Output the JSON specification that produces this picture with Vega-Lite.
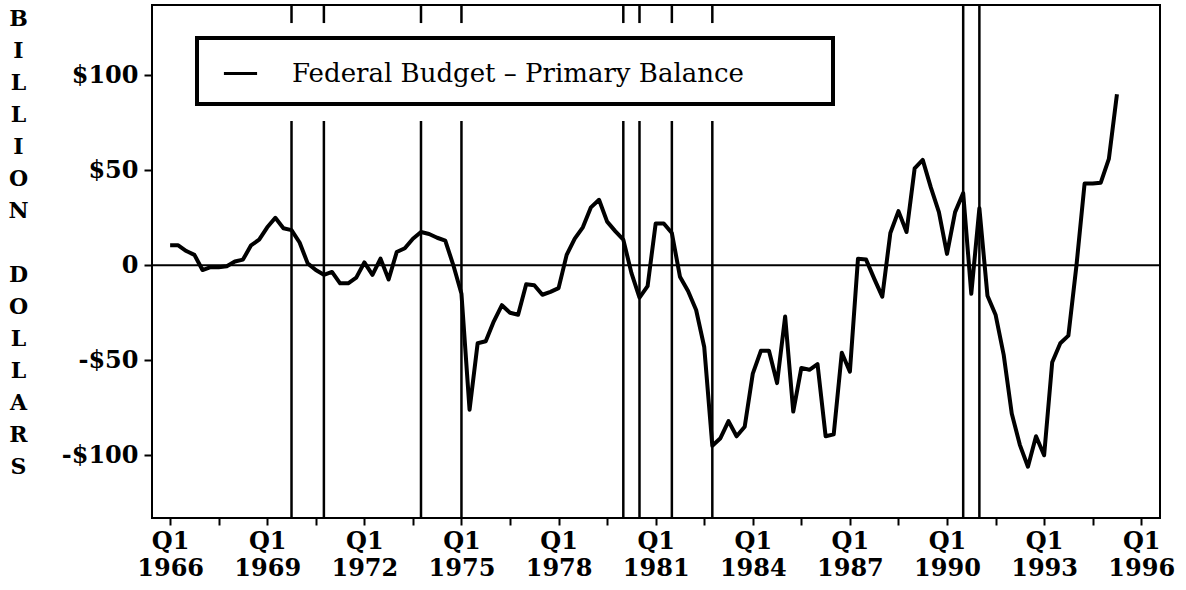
{
  "$schema": "https://vega.github.io/schema/vega-lite/v6.json",
  "width": 1008,
  "height": 513,
  "autosize": {"type": "none"},
  "padding": {"left": 152, "top": 5, "right": 26, "bottom": 72},
  "background": "white",
  "config": {
    "view": {"stroke": "black", "strokeWidth": 2},
    "font": "DejaVu Serif"
  },
  "datasets": {
    "budget": [
      {"t": 1966.00, "v": 10.5}, {"t": 1966.25, "v": 10.5}, {"t": 1966.50, "v": 7.5}, {"t": 1966.75, "v": 5.5},
      {"t": 1967.00, "v": -2.5}, {"t": 1967.25, "v": -1.0}, {"t": 1967.50, "v": -1.0}, {"t": 1967.75, "v": -0.5},
      {"t": 1968.00, "v": 2.0}, {"t": 1968.25, "v": 3.0}, {"t": 1968.50, "v": 10.5}, {"t": 1968.75, "v": 13.5},
      {"t": 1969.00, "v": 20.0}, {"t": 1969.25, "v": 25.0}, {"t": 1969.50, "v": 19.5}, {"t": 1969.75, "v": 18.5},
      {"t": 1970.00, "v": 12.0}, {"t": 1970.25, "v": 1.0}, {"t": 1970.50, "v": -2.5}, {"t": 1970.75, "v": -5.0},
      {"t": 1971.00, "v": -3.5}, {"t": 1971.25, "v": -9.5}, {"t": 1971.50, "v": -9.5}, {"t": 1971.75, "v": -6.5},
      {"t": 1972.00, "v": 1.5}, {"t": 1972.25, "v": -5.0}, {"t": 1972.50, "v": 3.5}, {"t": 1972.75, "v": -7.5},
      {"t": 1973.00, "v": 7.0}, {"t": 1973.25, "v": 9.0}, {"t": 1973.50, "v": 14.0}, {"t": 1973.75, "v": 17.5},
      {"t": 1974.00, "v": 16.5}, {"t": 1974.25, "v": 14.5}, {"t": 1974.50, "v": 13.0}, {"t": 1974.75, "v": 0.0},
      {"t": 1975.00, "v": -15.0}, {"t": 1975.25, "v": -76.0}, {"t": 1975.50, "v": -41.0}, {"t": 1975.75, "v": -40.0},
      {"t": 1976.00, "v": -29.5}, {"t": 1976.25, "v": -21.0}, {"t": 1976.50, "v": -25.0}, {"t": 1976.75, "v": -26.0},
      {"t": 1977.00, "v": -10.0}, {"t": 1977.25, "v": -10.5}, {"t": 1977.50, "v": -15.5}, {"t": 1977.75, "v": -14.0},
      {"t": 1978.00, "v": -12.0}, {"t": 1978.25, "v": 5.5}, {"t": 1978.50, "v": 14.0}, {"t": 1978.75, "v": 20.0},
      {"t": 1979.00, "v": 30.5}, {"t": 1979.25, "v": 34.5}, {"t": 1979.50, "v": 23.0}, {"t": 1979.75, "v": 18.0},
      {"t": 1980.00, "v": 13.5}, {"t": 1980.25, "v": -4.0}, {"t": 1980.50, "v": -17.0}, {"t": 1980.75, "v": -11.0},
      {"t": 1981.00, "v": 22.0}, {"t": 1981.25, "v": 22.0}, {"t": 1981.50, "v": 17.0}, {"t": 1981.75, "v": -6.0},
      {"t": 1982.00, "v": -13.5}, {"t": 1982.25, "v": -23.5}, {"t": 1982.50, "v": -43.0}, {"t": 1982.75, "v": -95.0},
      {"t": 1983.00, "v": -91.0}, {"t": 1983.25, "v": -82.0}, {"t": 1983.50, "v": -90.0}, {"t": 1983.75, "v": -85.0},
      {"t": 1984.00, "v": -57.0}, {"t": 1984.25, "v": -45.0}, {"t": 1984.50, "v": -45.0}, {"t": 1984.75, "v": -62.0},
      {"t": 1985.00, "v": -27.0}, {"t": 1985.25, "v": -77.0}, {"t": 1985.50, "v": -54.0}, {"t": 1985.75, "v": -55.0},
      {"t": 1986.00, "v": -52.0}, {"t": 1986.25, "v": -90.0}, {"t": 1986.50, "v": -89.0}, {"t": 1986.75, "v": -46.0},
      {"t": 1987.00, "v": -56.0}, {"t": 1987.25, "v": 3.5}, {"t": 1987.50, "v": 3.0}, {"t": 1987.75, "v": -7.0},
      {"t": 1988.00, "v": -16.5}, {"t": 1988.25, "v": 17.0}, {"t": 1988.50, "v": 28.5}, {"t": 1988.75, "v": 17.5},
      {"t": 1989.00, "v": 51.0}, {"t": 1989.25, "v": 55.5}, {"t": 1989.50, "v": 41.0}, {"t": 1989.75, "v": 28.0},
      {"t": 1990.00, "v": 6.0}, {"t": 1990.25, "v": 28.0}, {"t": 1990.50, "v": 38.0}, {"t": 1990.75, "v": -15.0},
      {"t": 1991.00, "v": 30.0}, {"t": 1991.25, "v": -16.0}, {"t": 1991.50, "v": -26.0}, {"t": 1991.75, "v": -47.0},
      {"t": 1992.00, "v": -78.0}, {"t": 1992.25, "v": -94.5}, {"t": 1992.50, "v": -106.0}, {"t": 1992.75, "v": -90.0},
      {"t": 1993.00, "v": -100.0}, {"t": 1993.25, "v": -51.0}, {"t": 1993.50, "v": -41.0}, {"t": 1993.75, "v": -37.0},
      {"t": 1994.00, "v": 0.0}, {"t": 1994.25, "v": 43.0}, {"t": 1994.50, "v": 43.0}, {"t": 1994.75, "v": 43.5},
      {"t": 1995.00, "v": 56.0}, {"t": 1995.25, "v": 90.0}
    ],
    "recessions": [
      {"t": 1969.75}, {"t": 1970.75}, {"t": 1973.75}, {"t": 1975.0}, {"t": 1980.0},
      {"t": 1980.5}, {"t": 1981.5}, {"t": 1982.75}, {"t": 1990.5}, {"t": 1991.0}
    ]
  },
  "layer": [
    {
      "data": {"name": "budget"},
      "mark": {"type": "line", "strokeWidth": 4, "strokeJoin": "round"},
      "encoding": {
        "x": {
          "field": "t", "type": "quantitative",
          "scale": {"domain": [1965.44, 1996.58], "nice": false, "zero": false},
          "axis": {
            "values": [1966, 1966.75, 1967.5, 1968.25, 1969, 1969.75, 1970.5, 1971.25, 1972, 1972.75, 1973.5, 1974.25, 1975, 1975.75, 1976.5, 1977.25, 1978, 1978.75, 1979.5, 1980.25, 1981, 1981.75, 1982.5, 1983.25, 1984, 1984.75, 1985.5, 1986.25, 1987, 1987.75, 1988.5, 1989.25, 1990, 1990.75, 1991.5, 1992.25, 1993, 1993.75, 1994.5, 1995.25, 1996],
            "labelExpr": "(datum.value - 1966) % 3 == 0 ? ['Q1', '' + datum.value] : ''",
            "labelOverlap": false,
            "labelFlush": false,
            "grid": false,
            "domain": false,
            "tickSize": 7,
            "tickWidth": 2,
            "tickColor": "black",
            "labelFont": "DejaVu Serif",
            "labelFontSize": 24,
            "labelFontWeight": "bold",
            "labelColor": "black",
            "labelLineHeight": 27,
            "labelPadding": 4,
            "title": null
          }
        },
        "y": {
          "field": "v", "type": "quantitative",
          "scale": {"domain": [-133, 137], "nice": false, "zero": false},
          "axis": {
            "values": [-100, -50, 0, 50, 100],
            "labelExpr": "datum.value == 0 ? '0' : (datum.value < 0 ? '-$' + abs(datum.value) : '$' + datum.value)",
            "grid": false,
            "domain": false,
            "tickSize": 8,
            "tickWidth": 2,
            "tickColor": "black",
            "labelFont": "DejaVu Serif",
            "labelFontSize": 24,
            "labelFontWeight": "bold",
            "labelColor": "black",
            "labelPadding": 6,
            "title": ["B", "I", "L", "L", "I", "O", "N", "\u2800", "D", "O", "L", "L", "A", "R", "S"],
            "titleAngle": 0,
            "titleX": -134,
            "titleY": 3,
            "titleAlign": "center",
            "titleBaseline": "top",
            "titleFont": "DejaVu Serif",
            "titleFontSize": 22,
            "titleFontWeight": "bold",
            "titleLineHeight": 32,
            "titleColor": "black"
          }
        },
        "color": {
          "datum": "Federal Budget – Primary Balance",
          "type": "nominal",
          "scale": {"range": ["black"]},
          "legend": {
            "orient": "none",
            "legendX": 45,
            "legendY": 33,
            "title": "\u00a0",
            "titleOrient": "right",
            "titlePadding": 72,
            "titleFontSize": 10,
            "symbolType": "stroke",
            "symbolSize": 1100,
            "symbolStrokeWidth": 3,
            "symbolStrokeColor": "black",
            "symbolOffset": 8,
            "labelFont": "DejaVu Serif",
            "labelFontSize": 26,
            "labelColor": "black",
            "labelOffset": 33,
            "labelLimit": 1000,
            "padding": 17,
            "fillColor": "white",
            "strokeColor": "black",
            "encode": {"legend": {"update": {"strokeWidth": {"value": 4}}}}
          }
        }
      }
    },
    {
      "data": {"name": "recessions"},
      "transform": [{"filter": "datum.t > 1986"}],
      "mark": {"type": "rule", "color": "black", "strokeWidth": 2.5},
      "encoding": {
        "x": {"field": "t", "type": "quantitative", "scale": {"domain": [1965.44, 1996.58], "nice": false, "zero": false}}
      }
    },
    {
      "data": {"name": "recessions"},
      "transform": [{"filter": "datum.t < 1986"}],
      "mark": {"type": "rule", "color": "black", "strokeWidth": 2.5},
      "encoding": {
        "x": {"field": "t", "type": "quantitative", "scale": {"domain": [1965.44, 1996.58], "nice": false, "zero": false}},
        "y": {"datum": -133, "type": "quantitative", "scale": {"domain": [-133, 137], "nice": false, "zero": false}},
        "y2": {"datum": 76}
      }
    },
    {
      "data": {"name": "recessions"},
      "transform": [{"filter": "datum.t < 1986"}],
      "mark": {"type": "rule", "color": "black", "strokeWidth": 2.5},
      "encoding": {
        "x": {"field": "t", "type": "quantitative", "scale": {"domain": [1965.44, 1996.58], "nice": false, "zero": false}},
        "y": {"datum": 127.5, "type": "quantitative", "scale": {"domain": [-133, 137], "nice": false, "zero": false}},
        "y2": {"datum": 137}
      }
    },
    {
      "data": {"values": [{}]},
      "mark": {"type": "rule", "color": "black", "strokeWidth": 2},
      "encoding": {
        "y": {"datum": 0, "type": "quantitative", "scale": {"domain": [-133, 137], "nice": false, "zero": false}}
      }
    }
  ]
}
